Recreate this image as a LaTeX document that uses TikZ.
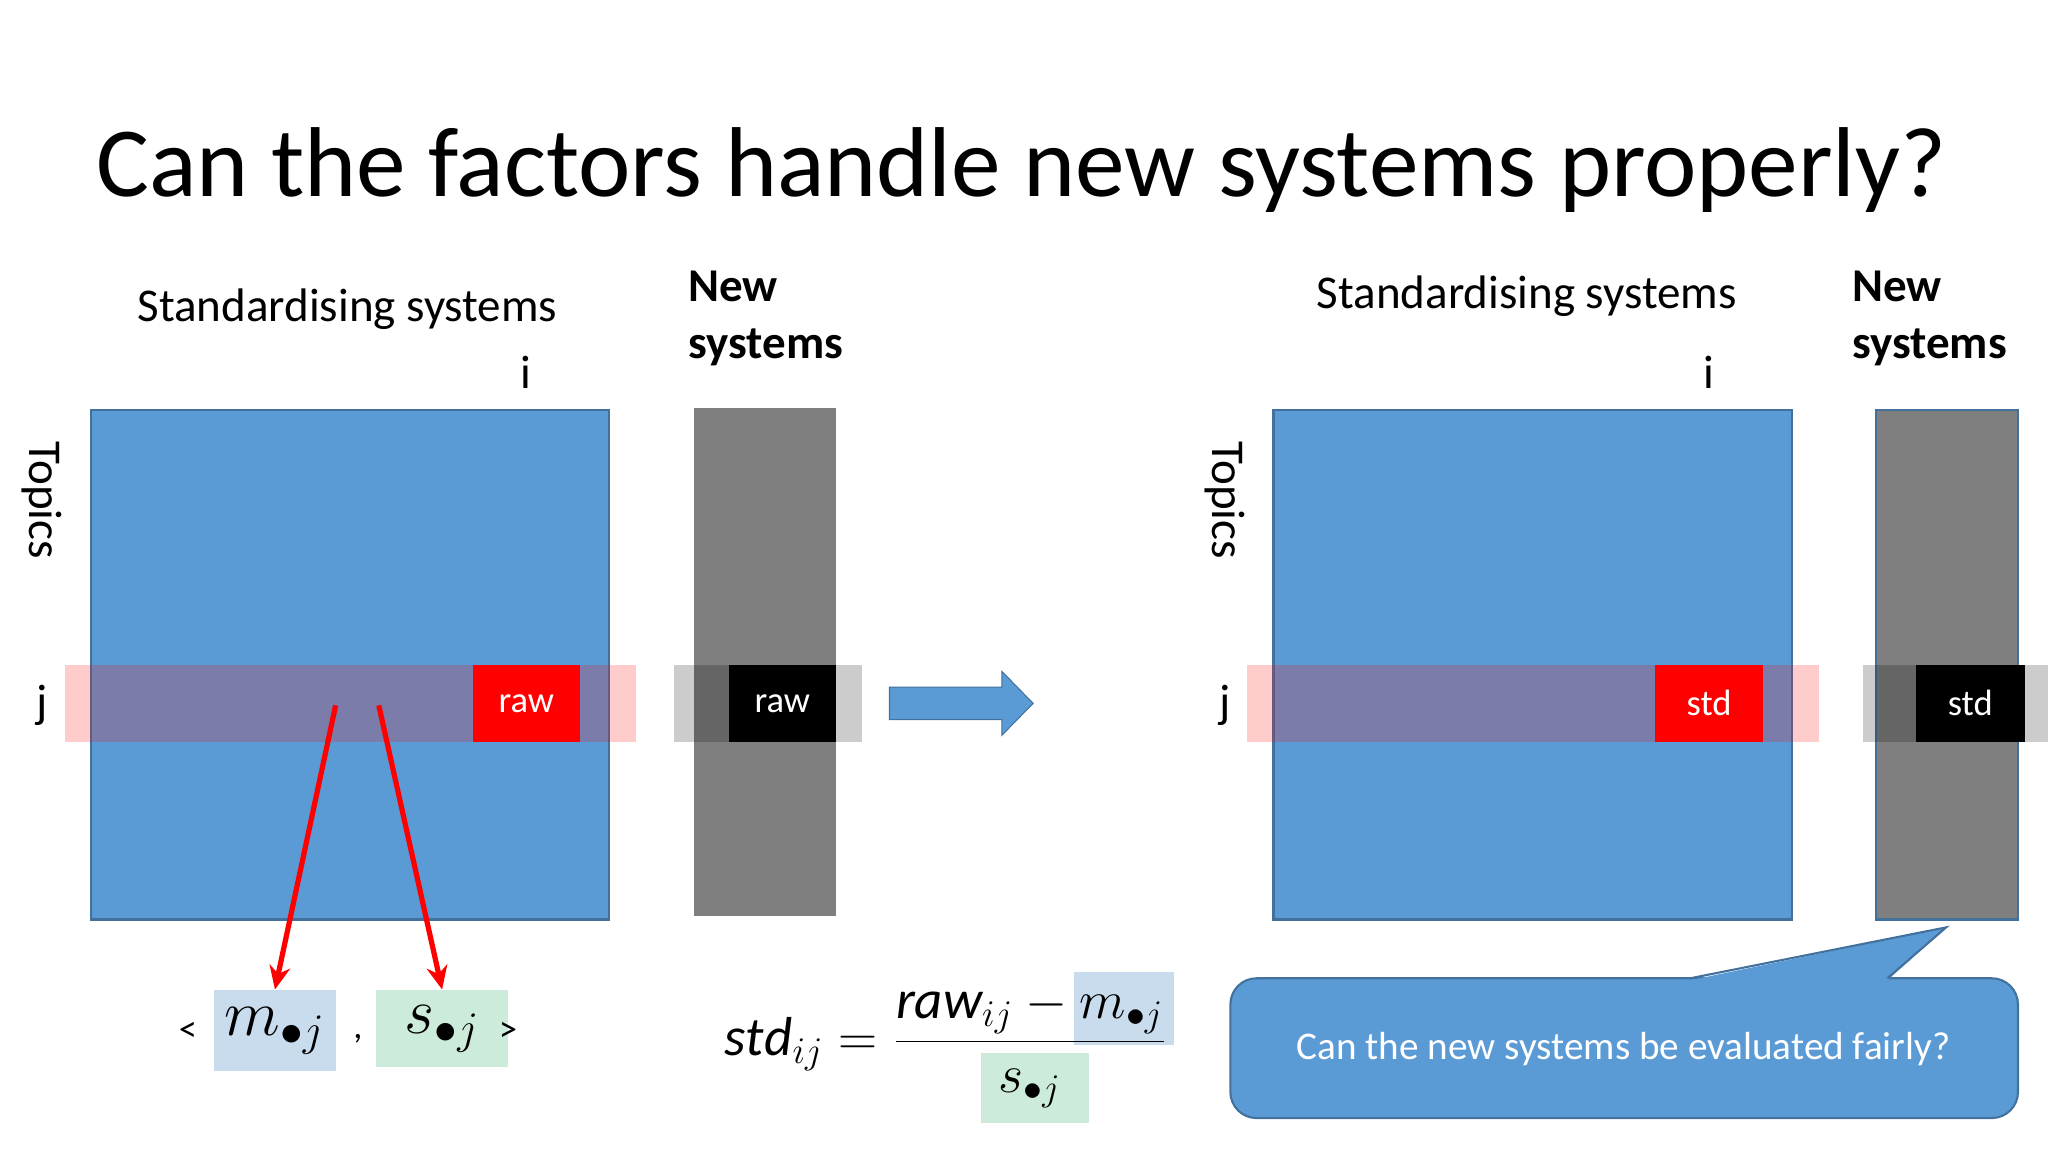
\documentclass[tikz,border=0pt]{standalone}
\usepackage{fontspec}
\setmainfont{Carlito}
\usetikzlibrary{shapes.geometric,arrows.meta}
\definecolor{sblue}{HTML}{5B9BD5}
\definecolor{sborder}{HTML}{41719C}
\definecolor{lblue}{HTML}{C9DCEE}
\definecolor{lgreen}{HTML}{CDEBDA}
\definecolor{gblock}{HTML}{7F7F7F}
\tikzset{
  lbl/.style={font=\fontsize{18}{20}\selectfont},
  hdr/.style={font=\bfseries\fontsize{18}{22}\selectfont, align=left, anchor=west},
  mat/.style={fill=sblue, draw=sborder, line width=0.8pt},
  pband/.style={fill=red, fill opacity=0.2, draw=none},
  gband/.style={fill=black, fill opacity=0.2, draw=none},
  cell/.style={draw=none, text=white, font=\fontsize{14}{16}\selectfont},
  rarr/.style={red, line width=2pt, -{Stealth[length=9pt,width=8pt]}},
}
\begin{document}
\begin{tikzpicture}[x=0.5pt,y=-0.5pt]
\useasboundingbox (0,0) rectangle (1568,882);
\node[font=\fontsize{38}{44}\selectfont] (title) at (782,130) {Can the factors handle new systems properly?};
% left
\node[lbl] (sl) at (266,237) {Standardising systems};
\node[lbl] (il) at (403,285) {i};
\node[hdr] (nl) at (520,244) {New\\systems};
\node[lbl, rotate=-90] (tl) at (32,383) {Topics};
\node[lbl] (jl) at (32,540) {j};
\draw[mat] (70,314) rectangle (466,704);
\fill[gblock] (531,312) rectangle (640,701);
\path[pband] (50,509) rectangle (487,568);
\path[gband] (516,509) rectangle (660,568);
\node[cell, fill=red, minimum width=41pt, minimum height=29.5pt] (rawl) at (403,538.5) {raw};
\node[cell, fill=black, minimum width=41pt, minimum height=29.5pt] (raw2) at (599,538.5) {raw};
\coordinate (a1) at (257,540);
\coordinate (a2) at (290,540);
% bottom tuple
\node[font=\fontsize{14}{16}\selectfont] (lt) at (144,790) {<};
\node[fill=lblue, minimum width=46.5pt, minimum height=31pt, font=\fontsize{26}{28}\selectfont] (mb) at (210.5,789) {$m_{\bullet j}$};
\node[font=\fontsize{14}{16}\selectfont] (cm) at (274,795) {,};
\node[fill=lgreen, minimum width=50.5pt, minimum height=29.5pt, font=\fontsize{26}{28}\selectfont] (sb) at (338.5,787.5) {$s_{\bullet j}$};
\node[font=\fontsize{14}{16}\selectfont] (gt) at (389,790) {>};
\draw[rarr] (a1) -- (mb.north);
\draw[rarr] (a2) -- (sb.north);
% block arrow
\fill[sblue, draw=sborder] (681,526) -- (767,526) -- (767,514) -- (791,538.5) -- (767,563) -- (767,551) -- (681,551) -- cycle;
% formula
\fill[lblue] (822,744) rectangle (899,800);
\fill[lgreen] (751,806) rectangle (834,860);
\node[font=\fontsize{21}{24}\selectfont] (eq) at (724,802) {$\displaystyle \mathit{std}_{ij}=\frac{\mathit{raw}_{ij}-m_{\bullet j}}{s_{\bullet j}}$};
% right
\node[lbl] (sr) at (1169,227) {Standardising systems};
\node[lbl] (ir) at (1308,285) {i};
\node[hdr] (nr) at (1411,244) {New\\systems};
\node[lbl, rotate=-90] (tr) at (938,383) {Topics};
\node[lbl] (jr) at (938,540) {j};
\draw[mat] (975,314) rectangle (1372,704);
\draw[fill=gblock, draw=sborder, line width=0.8pt] (1436,314) rectangle (1545,704);
\path[pband] (955,509) rectangle (1393,568);
\path[gband] (1426,509) rectangle (1568,568);
\node[cell, fill=red, minimum width=41.5pt, minimum height=29.5pt] (stdl) at (1308.5,538.5) {std};
\node[cell, fill=black, minimum width=41.5pt, minimum height=29.5pt] (std2) at (1508.5,538.5) {std};
% callout
\draw[fill=sblue, draw=sborder, line width=0.8pt, rounded corners=10pt] (942,749) rectangle (1545,856);
\fill[sblue] (1294,750.5) -- (1490,710) -- (1445,750.5) -- cycle;
\draw[sborder, line width=0.8pt] (1294,749) -- (1490,710) -- (1445,749);
\node[text=white, font=\fontsize{15}{18}\selectfont] (co) at (1243,803) {Can the new systems be evaluated fairly?};
\end{tikzpicture}
\end{document}
